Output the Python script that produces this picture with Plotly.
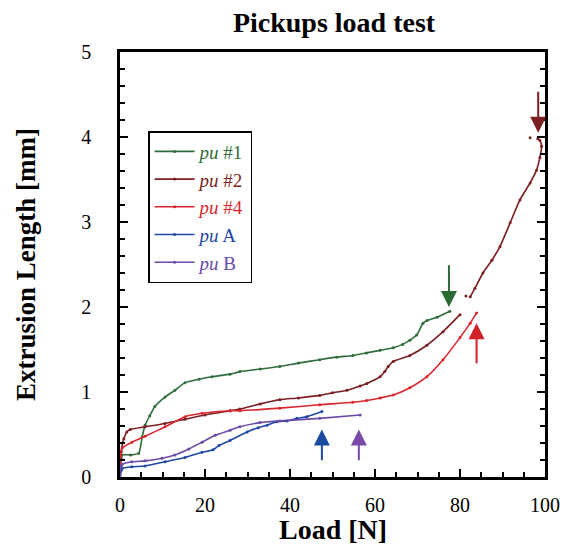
import plotly.graph_objects as go

# ---- data (Load [N] vs Extrusion Length [mm]) ----
pu1_x = [0, 0.3, 0.5, 2.5, 4.4, 5.2, 5.9, 7, 8.2, 10.6, 12.9, 15.3, 18.6, 21.6, 25.9, 28.2, 33, 37.6, 42, 47, 51, 54.8, 58, 61.2, 64.3, 66.5, 68.2, 69.8, 71.3, 72.2, 74.6, 77.6]
pu1_y = [0.05, 0.22, 0.26, 0.26, 0.28, 0.47, 0.61, 0.72, 0.83, 0.94, 1.02, 1.11, 1.15, 1.18, 1.21, 1.24, 1.27, 1.30, 1.34, 1.38, 1.41, 1.43, 1.46, 1.49, 1.52, 1.56, 1.61, 1.67, 1.81, 1.84, 1.88, 1.95]

pu2_x = [0, 0.3, 0.6, 0.9, 1.6, 2.4, 5.9, 10.6, 15.3, 20, 25.9, 28.2, 33, 37.6, 42, 47, 50, 53.4, 56.5, 58.1, 61.2, 62.3, 63.1, 64.3, 68.2, 72.2, 76, 80, None, 81.4, None, 82.4, 83.5, 85.4, 87.5, 89.4, 91.8, 94.1, 96.5, 98, 98.8, 99.2, 98.8, 98.3, None, 96.5]
pu2_y = [0.1, 0.3, 0.4, 0.45, 0.53, 0.56, 0.59, 0.63, 0.68, 0.73, 0.78, 0.80, 0.86, 0.91, 0.93, 0.96, 0.99, 1.02, 1.07, 1.10, 1.18, 1.24, 1.30, 1.36, 1.43, 1.55, 1.71, 1.91, None, 2.13, None, 2.12, 2.22, 2.40, 2.55, 2.71, 2.99, 3.26, 3.46, 3.61, 3.76, 3.89, 3.96, 3.98, None, 3.99]

pu4_x = [0, 0.2, 0.5, 2.8, 5.9, 10.6, 15.3, 19.3, 25.9, 28.2, 37.6, 47, 54.8, 58, 61.2, 64.3, 68.2, 72.2, 76, 80, 82.4, 83.9]
pu4_y = [0.05, 0.25, 0.34, 0.41, 0.48, 0.59, 0.71, 0.75, 0.78, 0.78, 0.81, 0.85, 0.88, 0.90, 0.93, 0.965, 1.05, 1.18, 1.38, 1.64, 1.81, 1.93]

puA_x = [0, 0.3, 0.5, 2.8, 5.9, 10.6, 15.3, 19.3, 21.9, 23.3, 25.9, 29.9, 32.5, 34.6, 36.9, 39.3, 41.6, 44, 47.5]
puA_y = [0.0, 0.08, 0.10, 0.12, 0.13, 0.18, 0.23, 0.29, 0.32, 0.37, 0.43, 0.53, 0.58, 0.61, 0.65, 0.66, 0.69, 0.71, 0.77]

puB_x = [0, 0.3, 0.5, 2.8, 5.9, 9.9, 12.9, 16.2, 19.3, 22.4, 25.9, 28.2, 32.9, 37.6, 47, 56.5]
puB_y = [0.02, 0.13, 0.15, 0.18, 0.19, 0.22, 0.26, 0.33, 0.41, 0.49, 0.55, 0.59, 0.64, 0.66, 0.69, 0.73]

series_names = ["#1", "#2", "#4", "A", "B"]
series_colors = ["#2f6e3c", "#7a1f22", "#d8262e", "#1f48a6", "#6a4aa6"]

# arrows marking failure points: x, tail y, tip y
arrow_x = [77.4, 98.4, 83.9, 47.5, 56.2]
arrow_tail = [2.51, 4.55, 1.32, 0.18, 0.18]
arrow_tip = [2.0, 4.05, 1.81, 0.56, 0.56]
arrow_colors = ["#2a6a34", "#7a1f22", "#d42028", "#1a4aa0", "#7a4aa8"]

xs = [pu1_x, pu2_x, pu4_x, puA_x, puB_x]
ys = [pu1_y, pu2_y, pu4_y, puA_y, puB_y]

FONT = "Liberation Serif, Times New Roman, serif"

fig = go.Figure()
for name, c, x, y in zip(series_names, series_colors, xs, ys):
    fig.add_trace(go.Scatter(
        x=x, y=y, mode="lines+markers",
        name=f"<span style='color:{c}'><i>pu</i> {name}</span>",
        line=dict(color=c, width=1.6, shape="spline", smoothing=0.6),
        marker=dict(color=c, size=3),
        connectgaps=False,
    ))

for ax_, t0, t1, c in zip(arrow_x, arrow_tail, arrow_tip, arrow_colors):
    fig.add_annotation(
        x=ax_, y=t1, ax=ax_, ay=t0,
        xref="x", yref="y", axref="x", ayref="y",
        showarrow=True, arrowhead=2, arrowsize=1.6, arrowwidth=2,
        arrowcolor=c, text="",
    )

axis_common = dict(
    showgrid=False, zeroline=False, automargin=False,
    showline=True, linecolor="black", linewidth=2.5,
    ticks="inside", ticklen=8, tickwidth=1.5, tickcolor="black",
    tickfont=dict(family=FONT, size=20, color="black"),
)

fig.update_xaxes(
    **axis_common, range=[0, 100], dtick=20, mirror=True,
    minor=dict(dtick=5, ticks="inside", ticklen=5, tickwidth=1.5, tickcolor="black"),
    ticklabelstandoff=8,
)
fig.update_yaxes(
    **axis_common, range=[0, 5], dtick=1, mirror="ticks",
    minor=dict(dtick=0.2, ticks="inside", ticklen=5, tickwidth=1.5, tickcolor="black"),
    title=dict(text="<b>Extrusion Length [mm]</b>", font=dict(family=FONT, size=27, color="black"), standoff=38),
    ticklabelstandoff=22,
)

# x-axis title placed as annotation for precise vertical position
fig.add_annotation(
    text="<b>Load [N]</b>", x=0.5, y=-0.124, xref="paper", yref="paper",
    xanchor="center", yanchor="middle", showarrow=False,
    font=dict(family=FONT, size=28, color="black"),
)

fig.update_layout(
    width=570, height=550,
    margin=dict(l=112, r=33, t=44, b=81),
    paper_bgcolor="white", plot_bgcolor="white",
    title=dict(text="<b>Pickups load test</b>", x=0.572, xanchor="center", y=0.975, yanchor="middle",
               font=dict(family=FONT, size=28, color="black")),
    legend=dict(x=0.066, y=0.814, xanchor="left", yanchor="top",
                bordercolor="black", borderwidth=1.5, bgcolor="white",
                font=dict(family=FONT, size=19), itemwidth=40, tracegroupgap=0),
    showlegend=True,
)

fig.write_html("out.html")
